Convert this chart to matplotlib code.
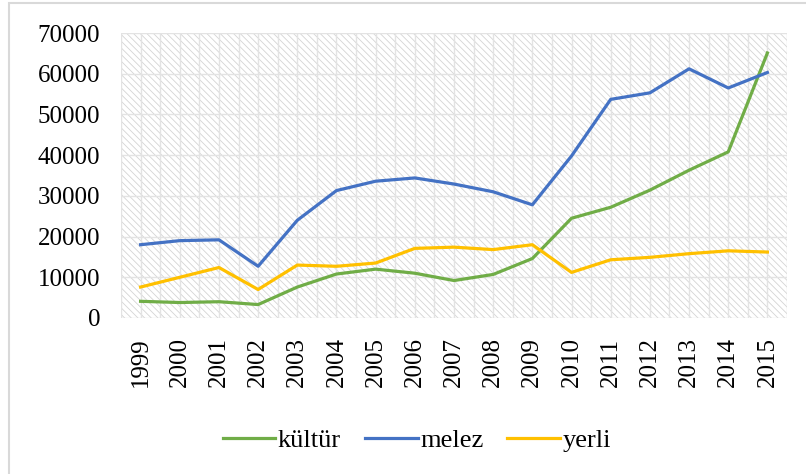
import matplotlib.pyplot as plt
from matplotlib.patches import Rectangle

yillar = [str(y) for y in range(1999, 2016)]
kultur = [4100, 3800, 4000, 3300, 7600, 10800, 12000, 11000, 9200, 10700, 14600,
          24500, 27200, 31400, 36300, 40800, 65100]
melez = [18000, 19000, 19200, 12700, 24000, 31300, 33600, 34400, 32900, 31000, 27800,
         39800, 53700, 55300, 61200, 56500, 60300]
yerli = [7600, 10000, 12400, 7000, 13000, 12700, 13500, 17100, 17400, 16800, 18000,
         11200, 14300, 14900, 15800, 16500, 16200]

plt.rcParams['font.family'] = ['Liberation Serif', 'DejaVu Serif']
plt.rcParams['hatch.linewidth'] = 0.6
plt.rcParams['hatch.color'] = '#d0d0d0'

fig = plt.figure(figsize=(8.06, 4.74), dpi=100)
ax = fig.add_axes([121 / 806, 1 - 318 / 474, 666 / 806, 285 / 474])

# cerceve
fig.patches.append(Rectangle((9 / 806, -0.01), 1.0, 1 - 3 / 474 + 0.01, transform=fig.transFigure,
                             fill=False, edgecolor='#d9d9d9', linewidth=1.5))

x = list(range(len(yillar)))
ax.add_patch(Rectangle((-0.5, 0), len(yillar), 70000, facecolor='white',
                       hatch='\\\\\\\\\\', edgecolor='#d4d4d4', linewidth=0, zorder=0))

for i in range(len(yillar) * 2 + 1):
    ax.axvline(-0.5 + i * 0.5, color='#e3e3e3', linewidth=1, zorder=1)
for v in range(0, 70001, 10000):
    ax.axhline(v, color='#e3e3e3', linewidth=1, zorder=1)

ax.plot(x, kultur, color='#70AD47', linewidth=2.3, label='kültür', zorder=3)
ax.plot(x, melez, color='#4472C4', linewidth=2.3, label='melez', zorder=3)
ax.plot(x, yerli, color='#FFC000', linewidth=2.3, label='yerli', zorder=3)

ax.set_xlim(-0.5, len(yillar) - 0.5)
ax.set_ylim(0, 70000)
ax.set_yticks(range(0, 70001, 10000))
ax.set_xticks(x)
ax.set_xticklabels(yillar, rotation=90)
ax.tick_params(length=0, labelsize=18)
ax.tick_params(axis='x', pad=14)
ax.tick_params(axis='y', pad=15)
for s in ax.spines.values():
    s.set_visible(False)

fig.legend(loc='center', bbox_to_anchor=(417 / 806, 1 - 440 / 474), ncol=3, frameon=False,
           prop={'family': 'Liberation Serif', 'size': 19},
           handlelength=2.0, handletextpad=0.1, columnspacing=0.9)

fig.savefig('out.png', dpi=100)
